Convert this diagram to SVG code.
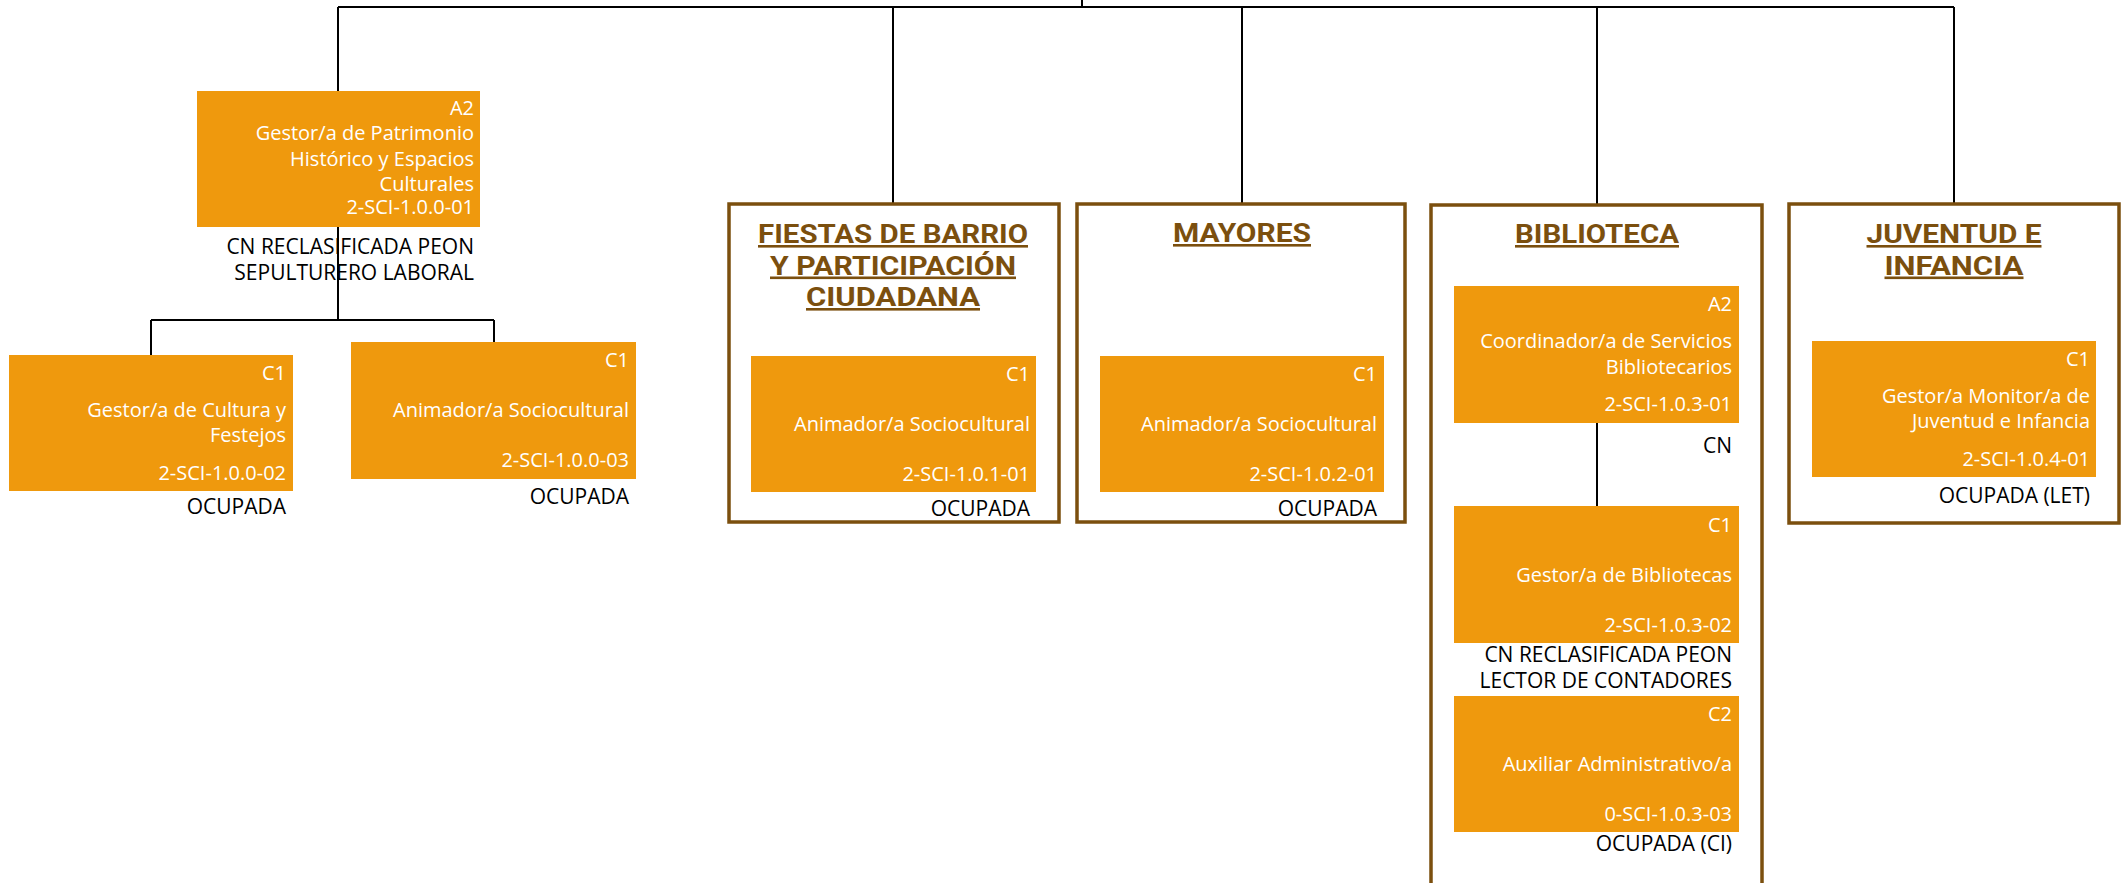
<svg xmlns="http://www.w3.org/2000/svg" width="2128" height="883" viewBox="0 0 2128 883">
<style>
.bg{fill:#ffffff}
.box{fill:#EF990D}
.frame{fill:none;stroke:#7B4F0E;stroke-width:3.5}
.ln{fill:none;stroke:#000000;stroke-width:2}
.w{font-family:"Open Sans","Liberation Sans",sans-serif;font-size:20px;fill:#ffffff;text-anchor:end}
.k{font-family:"Open Sans","Liberation Sans",sans-serif;font-size:21px;fill:#000000;text-anchor:end}
.t{font-family:Roboto,"Open Sans","Liberation Sans",sans-serif;font-size:26px;font-weight:bold;fill:#7B4F0E;text-anchor:middle;text-decoration:underline}
</style>
<rect class="bg" x="0" y="0" width="2128" height="883"/>
<g id="connectors">
<path class="ln" d="M1082 0V7"/>
<path class="ln" d="M338 7H1954"/>
<path class="ln" d="M338 7V91"/>
<path class="ln" d="M893 7V204"/>
<path class="ln" d="M1242 7V204"/>
<path class="ln" d="M1597 7V205"/>
<path class="ln" d="M1954 7V204"/>
<path class="ln" d="M338 227V320"/>
<path class="ln" d="M151 320H494"/>
<path class="ln" d="M151 320V355"/>
<path class="ln" d="M494 320V342"/>
<path class="ln" d="M1597 423V506"/>
</g>
<g id="frame-fiestas">
<rect class="frame" x="729" y="204" width="330" height="318"/>
<text class="t" x="893" y="243" textLength="270" lengthAdjust="spacingAndGlyphs">FIESTAS DE BARRIO</text>
<text class="t" x="893" y="274.5" textLength="246" lengthAdjust="spacingAndGlyphs">Y PARTICIPACIÓN</text>
<text class="t" x="893" y="306" textLength="174" lengthAdjust="spacingAndGlyphs">CIUDADANA</text>
</g>
<g id="frame-mayores">
<rect class="frame" x="1077" y="204" width="328" height="318"/>
<text class="t" x="1242" y="242" textLength="138" lengthAdjust="spacingAndGlyphs">MAYORES</text>
</g>
<g id="frame-biblioteca">
<rect class="frame" x="1431" y="205" width="331" height="700"/>
<text class="t" x="1597" y="243" textLength="164" lengthAdjust="spacingAndGlyphs">BIBLIOTECA</text>
</g>
<g id="frame-juventud">
<rect class="frame" x="1789" y="204" width="330" height="319"/>
<text class="t" x="1954" y="243" textLength="175" lengthAdjust="spacingAndGlyphs">JUVENTUD E</text>
<text class="t" x="1954" y="274.5" textLength="139" lengthAdjust="spacingAndGlyphs">INFANCIA</text>
</g>
<g id="node-patrimonio">
<rect class="box" x="197" y="91" width="283" height="136"/>
<text class="w" x="474" y="115">A2</text>
<text class="w" x="474" y="140">Gestor/a de Patrimonio</text>
<text class="w" x="474" y="166">Histórico y Espacios</text>
<text class="w" x="474" y="191">Culturales</text>
<text class="w" x="474" y="214">2-SCI-1.0.0-01</text>
<text class="k" x="474" y="254">CN RECLASIFICADA PEON</text>
<text class="k" x="474" y="280">SEPULTURERO LABORAL</text>
</g>
<g id="node-cultura">
<rect class="box" x="9" y="355" width="284" height="136"/>
<text class="w" x="286" y="380">C1</text>
<text class="w" x="286" y="417">Gestor/a de Cultura y</text>
<text class="w" x="286" y="442">Festejos</text>
<text class="w" x="286" y="480">2-SCI-1.0.0-02</text>
<text class="k" x="286" y="514">OCUPADA</text>
</g>
<g id="node-animador1">
<rect class="box" x="351" y="342" width="285" height="137"/>
<text class="w" x="629" y="367">C1</text>
<text class="w" x="629" y="417">Animador/a Sociocultural</text>
<text class="w" x="629" y="467">2-SCI-1.0.0-03</text>
<text class="k" x="629" y="504">OCUPADA</text>
</g>
<g id="node-animador-fiestas">
<rect class="box" x="751" y="356" width="285" height="136"/>
<text class="w" x="1030" y="381">C1</text>
<text class="w" x="1030" y="431">Animador/a Sociocultural</text>
<text class="w" x="1030" y="481">2-SCI-1.0.1-01</text>
<text class="k" x="1030" y="516">OCUPADA</text>
</g>
<g id="node-animador-mayores">
<rect class="box" x="1100" y="356" width="284" height="136"/>
<text class="w" x="1377" y="381">C1</text>
<text class="w" x="1377" y="431">Animador/a Sociocultural</text>
<text class="w" x="1377" y="481">2-SCI-1.0.2-01</text>
<text class="k" x="1377" y="516">OCUPADA</text>
</g>
<g id="node-coordinador">
<rect class="box" x="1454" y="286" width="285" height="137"/>
<text class="w" x="1732" y="311">A2</text>
<text class="w" x="1732" y="348">Coordinador/a de Servicios</text>
<text class="w" x="1732" y="374">Bibliotecarios</text>
<text class="w" x="1732" y="411">2-SCI-1.0.3-01</text>
<text class="k" x="1732" y="453">CN</text>
</g>
<g id="node-gestor-bibliotecas">
<rect class="box" x="1454" y="506" width="285" height="137"/>
<text class="w" x="1732" y="532">C1</text>
<text class="w" x="1732" y="582">Gestor/a de Bibliotecas</text>
<text class="w" x="1732" y="632">2-SCI-1.0.3-02</text>
<text class="k" x="1732" y="662">CN RECLASIFICADA PEON</text>
<text class="k" x="1732" y="688">LECTOR DE CONTADORES</text>
</g>
<g id="node-auxiliar">
<rect class="box" x="1454" y="696" width="285" height="136"/>
<text class="w" x="1732" y="721">C2</text>
<text class="w" x="1732" y="771">Auxiliar Administrativo/a</text>
<text class="w" x="1732" y="821">0-SCI-1.0.3-03</text>
<text class="k" x="1732" y="851">OCUPADA (CI)</text>
</g>
<g id="node-juventud">
<rect class="box" x="1812" y="341" width="284" height="136"/>
<text class="w" x="2090" y="366">C1</text>
<text class="w" x="2090" y="403">Gestor/a Monitor/a de</text>
<text class="w" x="2090" y="428">Juventud e Infancia</text>
<text class="w" x="2090" y="466">2-SCI-1.0.4-01</text>
<text class="k" x="2090" y="503">OCUPADA (LET)</text>
</g>
</svg>
